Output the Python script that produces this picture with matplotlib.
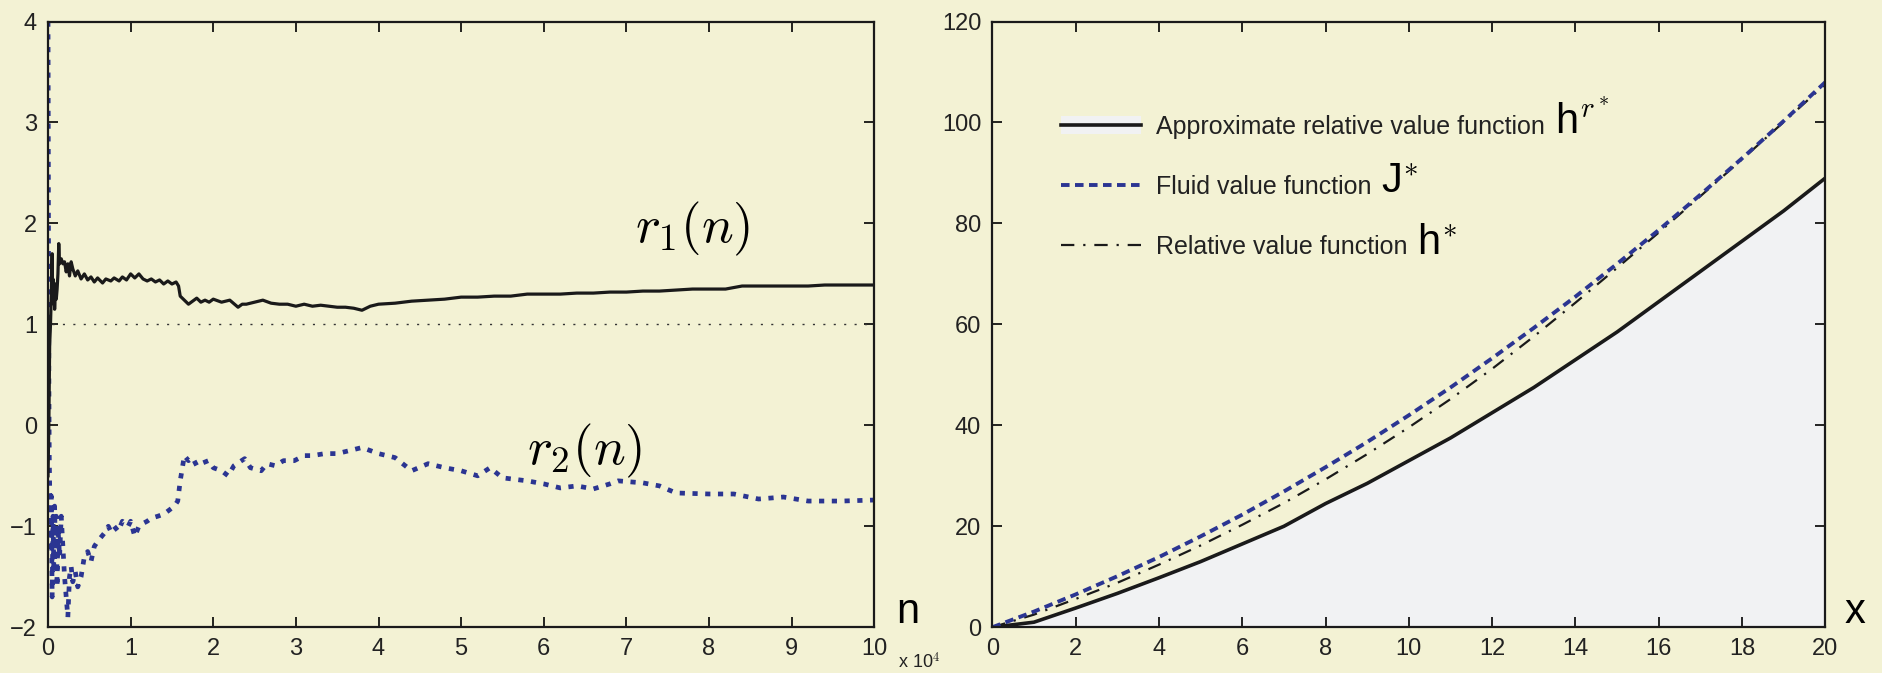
import matplotlib
matplotlib.use("Agg")
import matplotlib.pyplot as plt
from matplotlib.lines import Line2D
from matplotlib.patches import Patch

plt.rcParams["mathtext.fontset"] = "cm"
plt.rcParams["font.family"] = ["Liberation Sans", "DejaVu Sans"]

BG = "#F3F2D4"
BLUE = "#2B3592"
FILL = "#F1F2F3"
SANS = ["Liberation Sans", "DejaVu Sans"]

# ---- left panel: r1(n), r2(n) ----
n1 = [0, 100, 200, 300, 400, 500, 550, 600, 700, 750, 800, 900, 1000, 1100,
      1200, 1300, 1400, 1600, 1800, 2000, 2200, 2400, 2600, 2800, 3000, 3300,
      3600, 4000, 4400, 4800, 5200, 5600, 6000, 6600, 7000, 7600, 8000, 8600,
      9000, 9500, 10000, 10500, 11000, 11500, 12000, 12500, 13000, 13500,
      14000, 14500, 15000, 15500, 15800, 16000, 16500, 17000, 17500, 18000,
      18500, 19000, 19500, 20000, 21000, 22000, 23000, 23500, 24000, 25000,
      26000, 27000, 28000, 29000, 30000, 31000, 32000, 33000, 34000, 35000,
      36000, 37000, 38000, 39000, 40000, 42000, 44000, 46000, 48000, 50000,
      52000, 54000, 56000, 58000, 60000, 62000, 64000, 66000, 68000, 70000,
      72000, 74000, 76000, 78000, 80000, 82000, 84000, 86000, 88000, 90000,
      92000, 94000, 96000, 98000, 100000]
r1 = [-0.5, 0.0, 0.8, 1.0, 1.3, 1.7, 1.3, 1.45, 1.2, 1.4, 1.15, 1.4, 1.25, 1.35,
      1.5, 1.8, 1.6, 1.65, 1.6, 1.62, 1.52, 1.6, 1.48, 1.62, 1.55, 1.48,
      1.53, 1.45, 1.5, 1.44, 1.47, 1.42, 1.46, 1.41, 1.45, 1.43, 1.46, 1.43,
      1.47, 1.44, 1.5, 1.46, 1.5, 1.45, 1.43, 1.45, 1.42, 1.44, 1.4, 1.43,
      1.4, 1.42, 1.38, 1.28, 1.24, 1.2, 1.23, 1.26, 1.22, 1.24, 1.22, 1.25,
      1.22, 1.24, 1.17, 1.2, 1.2, 1.22, 1.24, 1.21, 1.2, 1.2, 1.18, 1.2, 1.18,
      1.19, 1.18, 1.17, 1.17, 1.16, 1.14, 1.18, 1.2, 1.21, 1.23, 1.24, 1.25,
      1.27, 1.27, 1.28, 1.28, 1.3, 1.3, 1.3, 1.31, 1.31, 1.32, 1.32, 1.33,
      1.33, 1.34, 1.35, 1.35, 1.35, 1.38, 1.38, 1.38, 1.38, 1.38, 1.39, 1.39,
      1.39, 1.39]

n2 = [0, 30, 60, 100, 150, 200, 300, 400, 500, 600, 700, 800, 900, 1000,
      1100, 1200, 1400, 1600, 1800, 2000, 2200, 2400, 2600, 2800, 3000, 3300,
      3600, 4000, 4400, 4800, 5200, 5600, 6000, 6500, 7000, 7300, 7600, 8000,
      8500, 9000, 9700, 10000, 10500, 11000, 11300, 12000, 12500, 13300,
      14000, 14500, 15300, 15700, 16000, 16500, 17000, 17500, 18000, 18500,
      19400, 20000, 21000, 21800, 22500, 23800, 24500, 25800, 26500, 27500,
      28500, 29800, 31000, 32000, 33500, 35000, 36500, 38000, 39000, 40000,
      42000, 44000, 46000, 48000, 50000, 52000, 53500, 55000, 58000, 60000,
      62000, 64000, 66000, 68000, 69000, 72000, 74000, 76000, 80000, 83000,
      86000, 89000, 92000, 96000, 100000]
r2 = [4.0, 3.0, 1.8, 0.5, -0.3, -0.6, -1.2, -0.7, -1.7, -0.9, -1.4, -0.8,
      -1.3, -0.9, -1.6, -1.0, -1.3, -0.9, -1.2, -1.5, -1.7, -1.9, -1.5, -1.4,
      -1.55, -1.45, -1.6, -1.5, -1.3, -1.25, -1.35, -1.2, -1.15, -1.1, -1.05,
      -1.0, -1.05, -1.0, -1.05, -0.95, -1.0, -0.95, -1.1, -1.0, -0.98, -0.95,
      -0.92, -0.9, -0.88, -0.85, -0.8, -0.75, -0.55, -0.3, -0.35, -0.32,
      -0.4, -0.38, -0.35, -0.42, -0.45, -0.5, -0.4, -0.33, -0.42, -0.45,
      -0.38, -0.4, -0.35, -0.35, -0.3, -0.3, -0.28, -0.28, -0.25, -0.22,
      -0.25, -0.28, -0.32, -0.45, -0.38, -0.42, -0.45, -0.5, -0.42, -0.52,
      -0.55, -0.58, -0.62, -0.6, -0.63, -0.58, -0.55, -0.57, -0.6, -0.67,
      -0.68, -0.68, -0.73, -0.71, -0.75, -0.75, -0.74]

# ---- right panel: value functions ----
x = list(range(21))
h_approx = [0, 1.0, 3.8, 6.7, 9.8, 13.0, 16.5, 20.0, 24.5, 28.5, 33.0, 37.5,
            42.5, 47.5, 53.0, 58.5, 64.5, 70.5, 76.5, 82.5, 89.0]
j_fluid = [0, 3.1, 6.5, 10.1, 13.9, 18.0, 22.3, 26.9, 31.7, 36.7, 42.0, 47.5,
           53.3, 59.3, 65.5, 72.0, 78.7, 85.7, 92.9, 100.3, 108.0]
h_rel = [0, 2.5, 5.6, 8.8, 12.4, 16.2, 20.3, 24.6, 29.3, 34.3, 39.6, 45.2,
         51.2, 57.6, 64.3, 71.2, 78.2, 85.4, 92.7, 100.1, 107.6]
legend_labels = ["Approximate relative value function",
                 "Fluid value function",
                 "Relative value function"]
legend_symbols = [r"h$^{r^*}$", r"J$^{*}$", r"h$^{*}$"]

fig = plt.figure(figsize=(18.83, 6.73), dpi=100, facecolor=BG)
ax1 = fig.add_axes([0.0255, 0.068, 0.4388, 0.90])
ax2 = fig.add_axes([0.527, 0.068, 0.4424, 0.90])

for ax in (ax1, ax2):
    ax.set_facecolor(BG)
    for s in ax.spines.values():
        s.set_linewidth(1.6)
        s.set_color("#1a1a1a")
    ax.tick_params(direction="in", top=True, right=True, length=7,
                   width=1.2, labelsize=17, pad=8, labelcolor="#222222")

# left
ax1.axhline(1, xmin=0.005, color="#333333", lw=1.0, ls=(0, (1.5, 6)))
ax1.plot(n2, r2, color=BLUE, lw=3.4, ls=(0, (1.1, 1.6)),
         dash_capstyle="butt")
ax1.plot(n1, r1, color="#1a1a1a", lw=2.3)
ax1.set_xlim(0, 100000)
ax1.set_ylim(-2, 4)
ax1.set_xticks([i * 10000 for i in range(11)])
ax1.set_xticklabels([str(i) for i in range(11)])
ax1.set_yticks(range(-2, 5))
ax1.set_yticklabels(["\u22122", "\u22121", "0", "1", "2", "3", "4"])
ax1.text(71000, 1.95, r"$r_1(n)$", fontsize=38, ha="left", va="center")
ax1.text(58000, -0.25, r"$r_2(n)$", fontsize=38, ha="left", va="center")
ax1.text(1.041, 0.025, "n", transform=ax1.transAxes, fontsize=30,
         ha="center", va="center")
ax1.text(1.029, -0.058, r"x 10$^4$", transform=ax1.transAxes, fontsize=13,
         ha="left", va="center", color="#222222")

# right
ax2.fill_between(x, h_approx, 0, color=FILL, lw=0)
ax2.plot(x, h_approx, color="#1a1a1a", lw=2.6)
ax2.plot(x, h_rel, color="#1a1a1a", lw=1.6, ls=(0, (6, 4, 1, 4)))
ax2.plot(x, j_fluid, color=BLUE, lw=2.8, ls=(0, (2.2, 1.4)))
ax2.set_xlim(0, 20)
ax2.set_ylim(0, 120)
ax2.set_xticks(range(0, 21, 2))
ax2.set_yticks(range(0, 121, 20))
ax2.text(1.036, 0.025, "x", transform=ax2.transAxes, fontsize=30,
         ha="center", va="center")

handles = [
    (Patch(facecolor=FILL, edgecolor="none"),
     Line2D([], [], color="#1a1a1a", lw=2.6)),
    Line2D([], [], color=BLUE, lw=2.8, ls=(0, (2.2, 1.4))),
    Line2D([], [], color="#1a1a1a", lw=1.6, ls=(0, (6, 4, 1, 4))),
]
leg = ax2.legend(handles, legend_labels, loc="center left",
                 bbox_to_anchor=(0.055, 0.727), frameon=False,
                 prop={"family": SANS, "size": 18}, handlelength=3.2,
                 handletextpad=0.6, labelspacing=1.45)
for t in leg.get_texts():
    t.set_color("#222222")

fig.canvas.draw()
renderer = fig.canvas.get_renderer()
inv = fig.transFigure.inverted()
for txt, sym in zip(leg.get_texts(), legend_symbols):
    bb = txt.get_window_extent(renderer)
    x0, y0 = inv.transform((bb.x1 + 10, bb.y0 + 0.22 * bb.height))
    fig.text(x0, y0, sym, fontsize=30, family=SANS, ha="left",
             va="baseline")

fig.savefig("out.png", dpi=100, facecolor=BG)
